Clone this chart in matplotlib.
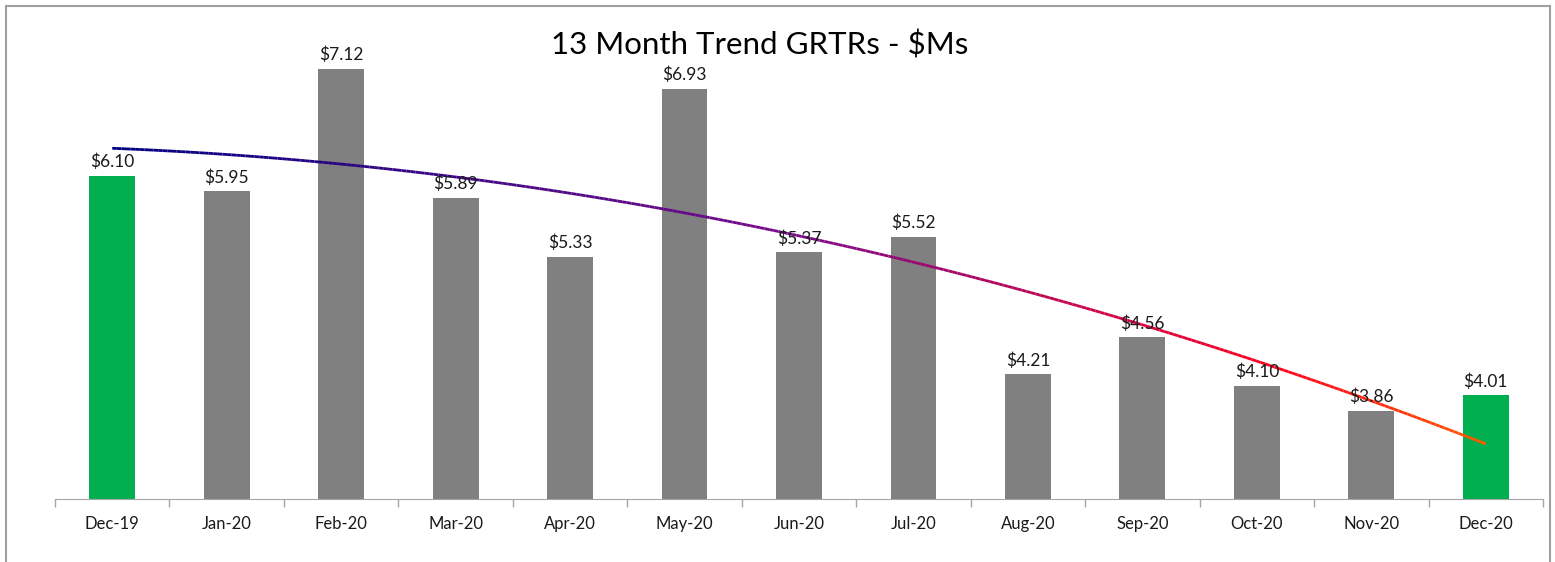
import numpy as np
import matplotlib
matplotlib.use('Agg')
import matplotlib.pyplot as plt
from matplotlib.collections import LineCollection
from matplotlib.colors import LinearSegmentedColormap
from matplotlib.patches import Rectangle

months = ['Dec-19', 'Jan-20', 'Feb-20', 'Mar-20', 'Apr-20', 'May-20', 'Jun-20',
          'Jul-20', 'Aug-20', 'Sep-20', 'Oct-20', 'Nov-20', 'Dec-20']
grtrs = [6.10, 5.95, 7.12, 5.89, 5.33, 6.93, 5.37, 5.52, 4.21, 4.56, 4.10, 3.86, 4.01]
bar_colors = ['#00B050'] + ['#808080'] * 11 + ['#00B050']

plt.rcParams['font.family'] = ['Lato', 'DejaVu Sans']

W, H = 1555, 562
fig = plt.figure(figsize=(W / 100, H / 100), dpi=100)
left, right, bottom, top = 55, 1543, 499, 28.75
ax = fig.add_axes([left / W, 1 - bottom / H, (right - left) / W, (bottom - top) / H])

x = np.arange(len(months))
ax.bar(x, grtrs, width=0.4, color=bar_colors, zorder=2)
for xi, v in zip(x, grtrs):
    ax.annotate(f'${v:.2f}', (xi, v), xytext=(0, 4), textcoords='offset points',
                ha='center', va='bottom', fontsize=12.5, color='#1a1a1a', zorder=4)

# polynomial trendline (order 2), coloured as a gradient
coef = np.polyfit(x, grtrs, 2)
xs = np.linspace(0, len(months) - 1, 300)
ys = np.polyval(coef, xs)
pts = np.column_stack([xs, ys]).reshape(-1, 1, 2)
segs = np.concatenate([pts[:-1], pts[1:]], axis=1)
cmap = LinearSegmentedColormap.from_list(
    'trend', [(0, '#000080'), (0.5, '#7a0a8a'), (0.85, '#ff0020'), (1, '#ff5a00')])
lc = LineCollection(segs, cmap=cmap, linewidth=2, zorder=3)
lc.set_array(np.linspace(0, 1, len(segs)))
ax.add_collection(lc)

ax.set_xlim(-0.5, len(months) - 0.5)
ax.set_ylim(3.02, 7.5)
ax.set_yticks([])
for s in ['left', 'right', 'top']:
    ax.spines[s].set_visible(False)
ax.spines['bottom'].set_color('#a6a6a6')
ax.set_xticks(x)
ax.set_xticklabels(months, fontsize=12, color='#1a1a1a')
ax.tick_params(axis='x', which='major', length=0, pad=12)
ax.set_xticks(np.arange(-0.5, len(months), 1), minor=True)
ax.tick_params(axis='x', which='minor', length=6, color='#a6a6a6', width=1)

fig.text(760 / W, 1 - 45 / H, '13 Month Trend GRTRs - $Ms', ha='center', va='center',
         fontsize=22.5, color='#000000')

fig.patches.append(Rectangle((6 / W, -0.1), (1550 - 6) / W, 1.1 - 6 / H,
                             transform=fig.transFigure, fill=False,
                             edgecolor='#a0a0a0', linewidth=1.5))

fig.savefig('out.png', dpi=100)
